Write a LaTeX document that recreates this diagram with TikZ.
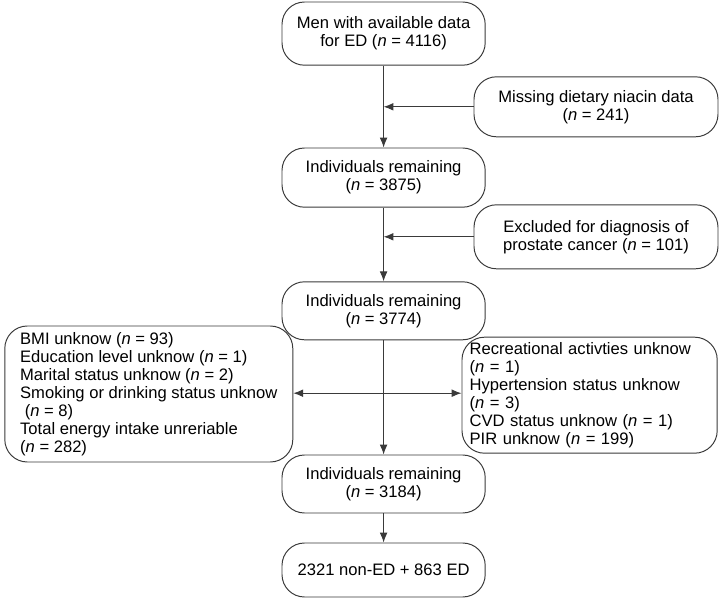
\documentclass[tikz,border=0pt]{standalone}
\usepackage{fontspec}
\setmainfont{Liberation Sans}
\usetikzlibrary{arrows.meta}
\definecolor{linegray}{HTML}{3A3A3A}
\tikzset{
  box/.style={draw=linegray, line width=0.7pt, rounded corners=16pt, align=center,
    minimum width=5.08cm, inner sep=2pt, font=\fontsize{11.8}{12.8}\selectfont},
  listbox/.style={box, align=left, inner ysep=2pt},
  arr/.style={draw=linegray, line width=0.7pt, -{Latex[length=7pt,width=5.5pt]}}
}
\begin{document}
\begin{tikzpicture}
        \useasboundingbox (0,0) rectangle (18,15);
        % main column
        \node [box, minimum height=1.58cm] (men) at (9.59,14.16) {Men with available data\\for ED (\textit{n} = 4116)};
        \node [box, minimum height=1.48cm] (remA) at (9.59,10.56) {Individuals remaining\\(\textit{n} = 3875)};
        \node [box, minimum height=1.45cm] (remB) at (9.59,7.23) {Individuals remaining\\(\textit{n} = 3774)};
        \node [box, minimum height=1.45cm] (remC) at (9.59,2.9) {Individuals remaining\\(\textit{n} = 3184)};
        \node [box, minimum height=1.35cm] (final) at (9.59,0.75) {2321 non-ED + 863 ED};
        % exclusions
        \node [box, minimum width=6.1cm, minimum height=1.5cm] (missing) at (14.9,12.33) {Missing dietary niacin data\\(\textit{n} = 241)};
        \node [box, minimum width=6.1cm, minimum height=1.6cm] (prostate) at (14.9,9.08) {Excluded for diagnosis of\\prostate cancer (\textit{n} = 101)};
        \node [listbox, inner xsep=0.36cm, minimum width=7.2cm, minimum height=3.4cm] (covA) at (3.72,5.15) {BMI unknow (\textit{n} = 93)\\Education level unknow (\textit{n} = 1)\\Marital status unknow (\textit{n} = 2)\\Smoking or drinking status unknow\\\ (\textit{n} = 8)\\Total energy intake unreriable\\(\textit{n} = 282)};
        \node [listbox, text width=6.0cm, inner xsep=0.19cm, minimum height=2.9cm] (covB) at (14.74,5.12) {Recreational activties unknow\\(\textit{n} = 1)\\Hypertension status unknow\\(\textit{n} = 3)\\CVD status unknow (\textit{n} = 1)\\PIR unknow (\textit{n} = 199)};
        % connectors
        \foreach \a/\b in {men/remA, remA/remB, remB/remC, remC/final}{
          \draw [arr] (\a) -- (\b);
        }
        \draw [arr] (missing.west) -- (missing.west -| men.center);
        \draw [arr] (prostate.west) -- (prostate.west -| men.center);
        \coordinate (split) at (9.59,5.17);
        \draw [arr] (split) -- (split -| covA.east);
        \draw [arr] (split) -- (split -| covB.west);
      \end{tikzpicture}
\end{document}
